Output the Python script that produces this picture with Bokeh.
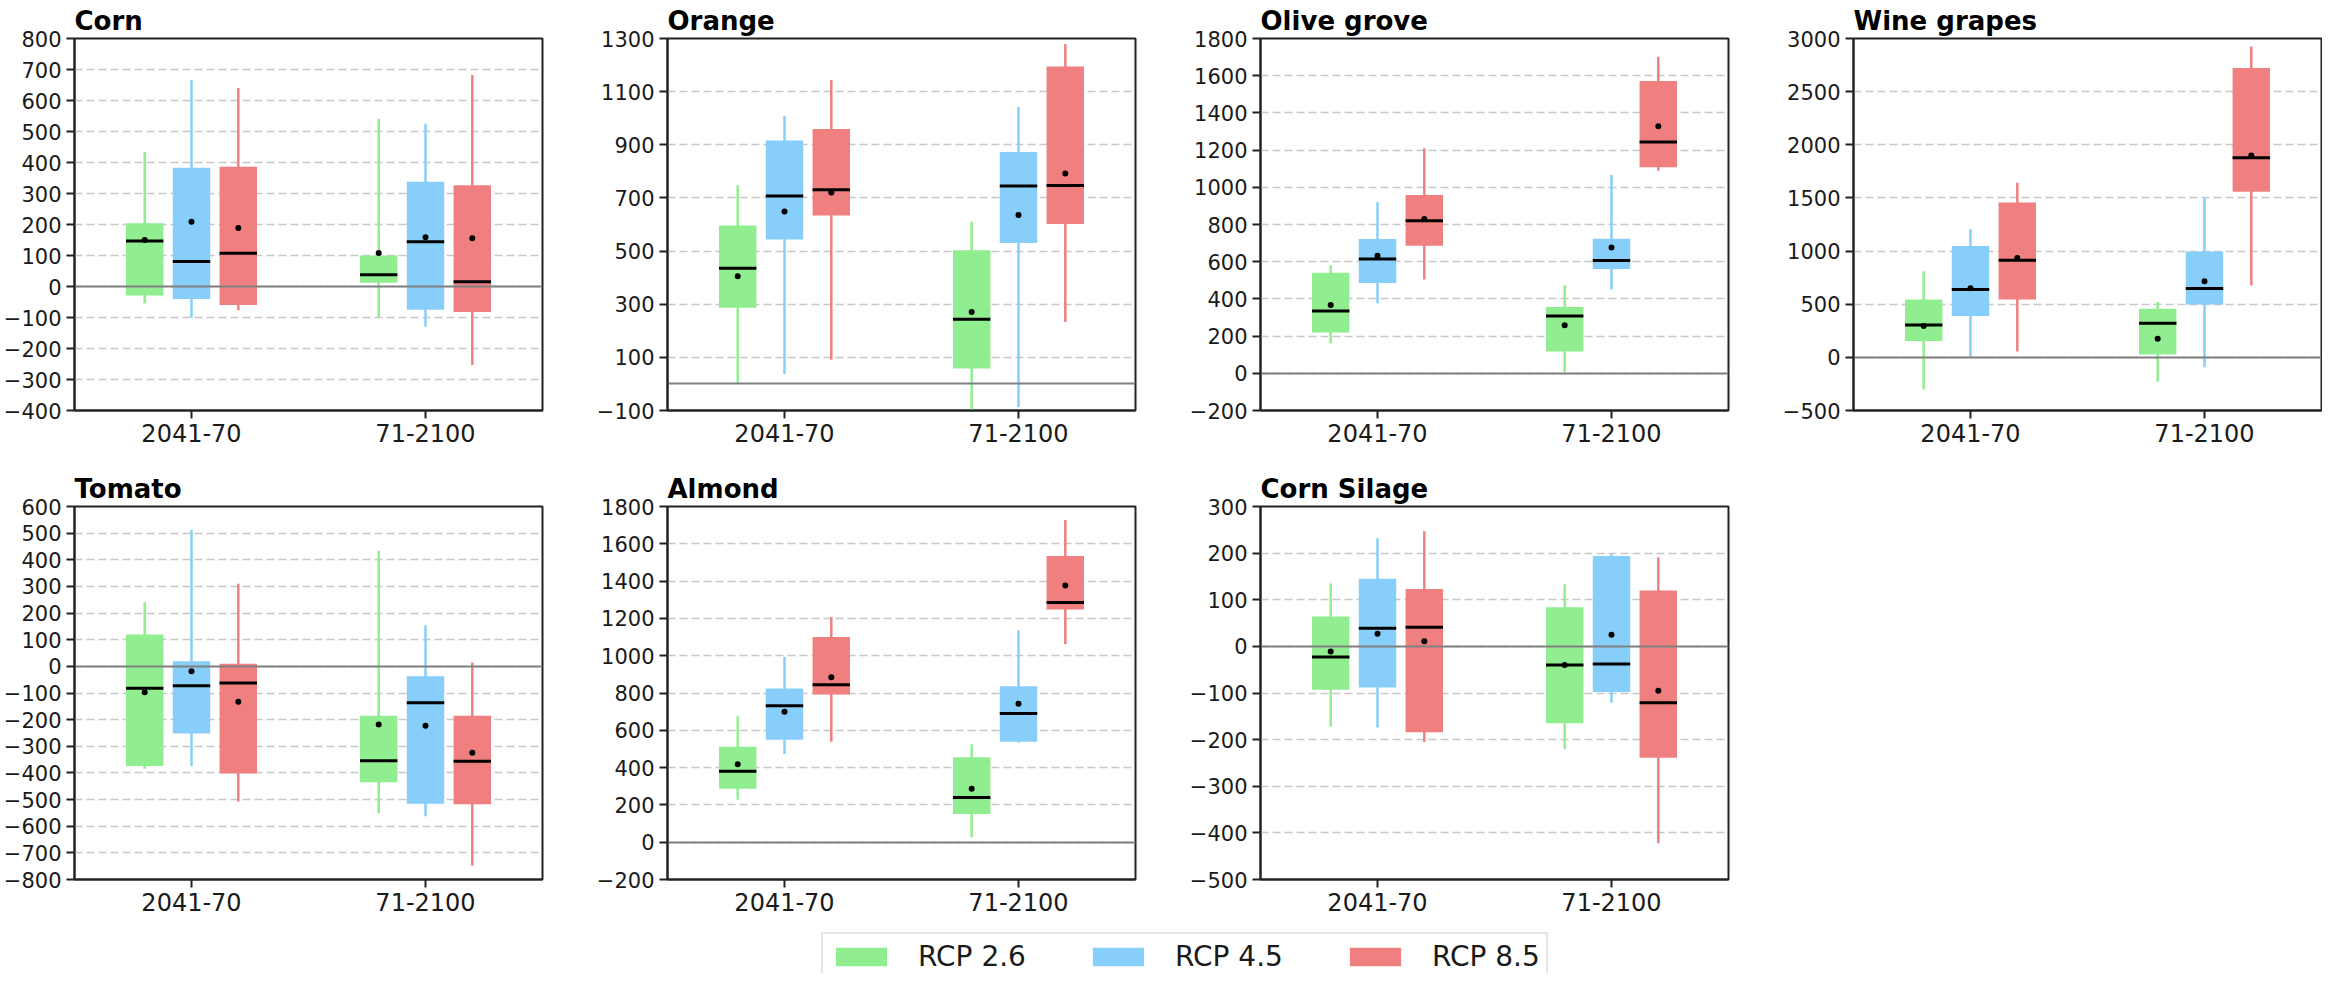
import numpy as np
from bokeh.plotting import figure
from bokeh.models import (FixedTicker, Legend, LegendItem, Range1d, Spacer,
                          ColumnDataSource, FactorRange)
from bokeh.transform import dodge
from bokeh.layouts import row, column
from bokeh.embed import file_html
from bokeh.resources import INLINE

crops = ["Corn", "Orange", "Olive grove", "Wine grapes", "Tomato", "Almond", "Corn Silage"]
periods = ["2041-70", "71-2100"]
scenarios = ["RCP 2.6", "RCP 4.5", "RCP 8.5"]
colors = ["#90EE90", "#87CEFA", "#F08080"]

# each inner list: [2041-70: RCP2.6, RCP4.5, RCP8.5, 71-2100: RCP2.6, RCP4.5, RCP8.5]
whisker_low = [
    [-55, -101, -77, -100, -130, -253],
    [0, 37, 91, -100, -88, 233],
    [162, 376, 504, 5, 451, 1089],
    [-303, 0, 55, -229, -94, 676],
    [-384, -374, -507, -551, -563, -748],
    [227, 473, 539, 26, 533, 1061],
    [-172, -174, -205, -220, -121, -422],
]
q1 = [
    [-29, -40, -60, 12, -75, -82],
    [287, 544, 634, 58, 530, 602],
    [219, 486, 686, 117, 561, 1108],
    [155, 389, 545, 27, 498, 1559],
    [-374, -252, -402, -435, -516, -518],
    [286, 550, 792, 151, 539, 1248],
    [-93, -88, -184, -165, -98, -239],
]
median = [
    [147, 81, 107, 38, 144, 15],
    [435, 707, 731, 243, 745, 747],
    [335, 615, 820, 308, 607, 1244],
    [305, 639, 913, 320, 648, 1877],
    [-82, -73, -62, -354, -137, -356],
    [380, 731, 844, 240, 690, 1285],
    [-23, 39, 41, -40, -38, -121],
]
q3 = [
    [204, 383, 386, 100, 338, 327],
    [596, 916, 959, 503, 873, 1195],
    [540, 722, 959, 356, 723, 1572],
    [545, 1047, 1456, 458, 997, 2722],
    [120, 19, 10, -185, -37, -185],
    [512, 824, 1100, 455, 836, 1535],
    [64, 145, 123, 84, 194, 120],
]
whisker_high = [
    [434, 666, 640, 541, 525, 682],
    [748, 1008, 1144, 610, 1042, 1279],
    [581, 921, 1210, 474, 1066, 1702],
    [810, 1206, 1643, 520, 1506, 2925],
    [241, 513, 310, 434, 154, 14],
    [676, 993, 1207, 525, 1136, 1727],
    [135, 232, 247, 133, 198, 191],
]
mean = [
    [150, 209, 189, 108, 159, 156],
    [405, 649, 720, 271, 636, 792],
    [367, 632, 830, 258, 677, 1328],
    [295, 651, 935, 174, 717, 1899],
    [-97, -18, -133, -218, -223, -324],
    [418, 699, 884, 286, 742, 1376],
    [-11, 27, 11, -40, 25, -95],
]

y_limits = [(-400, 800), (-100, 1300), (-200, 1800), (-500, 3000),
            (-800, 600), (-200, 1800), (-500, 300)]
y_steps = [100, 200, 200, 500, 100, 200, 100]

FONT = "DejaVu Sans"
TXT = "#1a1a1a"


def make_panel(i, width, height, mb_left, mb_right, mb_top, mb_bottom):
    lo, hi = y_limits[i]
    p = figure(width=width, height=height,
               x_range=FactorRange(*periods, range_padding=0),
               y_range=Range1d(lo, hi),
               output_backend="svg", toolbar_location=None,
               min_border_left=mb_left, min_border_right=mb_right,
               min_border_top=mb_top, min_border_bottom=mb_bottom)
    p.title.text = crops[i]
    p.title.text_font = FONT
    p.title.text_font_size = "26px"
    p.title.text_font_style = "bold"
    p.title.text_color = "black"
    p.title.align = "left"
    p.title.standoff = 6

    ticks = list(np.arange(lo, hi + 1, y_steps[i]))
    p.yaxis.ticker = FixedTicker(ticks=ticks)
    p.ygrid.ticker = FixedTicker(ticks=ticks)
    p.xgrid.visible = False
    p.ygrid.grid_line_color = "#c8c8c8"
    p.ygrid.grid_line_dash = "8 4"
    p.ygrid.grid_line_width = 1.5

    for ax in (p.xaxis, p.yaxis):
        ax.major_label_text_font = FONT
        ax.major_label_text_color = TXT
        ax.major_tick_out = 8
        ax.major_tick_in = 0
        ax.minor_tick_out = 0
        ax.minor_tick_in = 0
        ax.major_tick_line_width = 2
        ax.major_tick_line_color = "#222222"
        ax.axis_line_width = 2
        ax.axis_line_color = "#222222"
        ax.major_label_standoff = 5
    p.yaxis.major_label_text_font_size = "21px"
    p.xaxis.major_label_text_font_size = "24px"
    p.outline_line_color = "#222222"
    p.outline_line_width = 2
    p.outline_line_alpha = 1

    offsets = [-0.2, 0.0, 0.2]
    srcs = []
    for s in range(3):
        idx = [s, s + 3]
        srcs.append(ColumnDataSource(dict(
            period=periods,
            lo=[whisker_low[i][k] for k in idx],
            q1=[q1[i][k] for k in idx],
            med=[median[i][k] for k in idx],
            q3=[q3[i][k] for k in idx],
            hi=[whisker_high[i][k] for k in idx],
            mean=[mean[i][k] for k in idx],
        )))
    for s in range(3):
        xd = dodge("period", offsets[s], range=p.x_range)
        p.segment(x0=xd, y0="lo", x1=xd, y1="hi", line_color=colors[s],
                  line_width=2.5, source=srcs[s])
    for s in range(3):
        xd = dodge("period", offsets[s], range=p.x_range)
        p.vbar(x=xd, width=0.16, bottom="q1", top="q3", fill_color=colors[s],
               line_color=None, source=srcs[s])
    p.hspan(y=[0], line_color="#808080", line_width=2)
    for s in range(3):
        xd = dodge("period", offsets[s], range=p.x_range)
        p.rect(x=xd, y="med", width=0.16, height=3, height_units="screen",
               fill_color="black", line_color=None, source=srcs[s])
        p.scatter(x=xd, y="mean", size=6, fill_color="black", line_color=None,
                  source=srcs[s])
    return p


W = 593
row1 = [make_panel(k, W if k < 3 else 543, 468, 74, 51 if k < 3 else 1, 36, 58) for k in range(4)]
row2 = [make_panel(k, W, 456, 74, 51, 36, 45) for k in range(4, 7)]

leg = figure(width=770, height=49, x_range=Range1d(0, 1), y_range=Range1d(0, 1),
             toolbar_location=None, output_backend="svg", min_border=0,
             x_axis_location=None, y_axis_location=None, outline_line_color=None)
leg.xgrid.visible = False
leg.ygrid.visible = False
items = []
for c, s in zip(colors, scenarios):
    r = leg.vbar(x=[-5], top=[-5], bottom=[-6], width=0.1, fill_color=c, line_color=None)
    items.append(LegendItem(label=s, renderers=[r]))
legend = Legend(items=items, orientation="horizontal", location="top_left",
                margin=8, padding=6, spacing=60, label_standoff=25,
                glyph_width=64, glyph_height=23, label_height=23,
                label_text_font=FONT, label_text_font_size="28px",
                label_text_color=TXT, border_line_color="#cccccc",
                border_line_width=2, background_fill_color="white",
                background_fill_alpha=1)
leg.add_layout(legend)

layout = column(row(*row1), row(*row2), row(Spacer(width=813, height=49), leg))

open("out.html", "w").write(file_html(layout, INLINE))
